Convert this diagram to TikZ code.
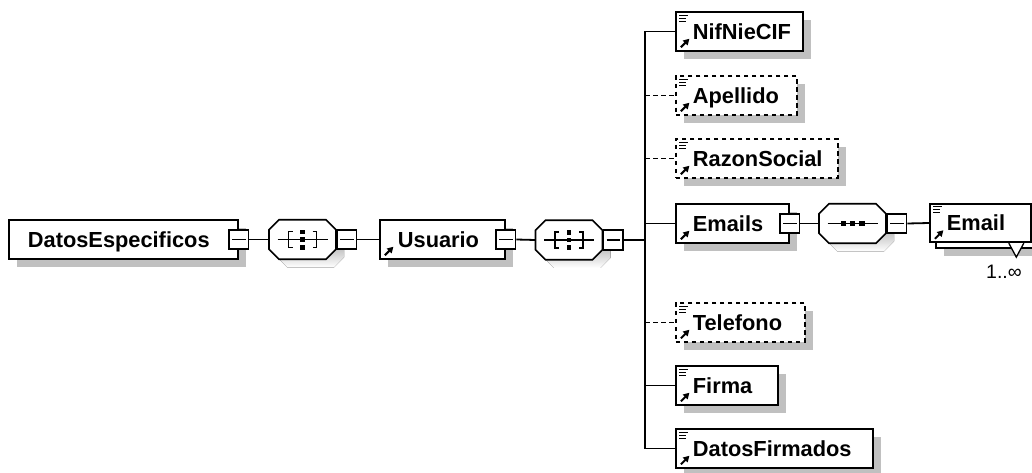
\documentclass[tikz,border=0pt]{standalone}
\usepackage{fontspec}
\setmainfont{Liberation Sans}
\usetikzlibrary{shadows,arrows.meta}
\definecolor{shade}{HTML}{C0C0C0}

\tikzset{
  conn/.style={line width=1.8pt},
  optional/.style={dash pattern=on 4.5pt off 3.5pt},
  box/.style={draw, fill=white, line width=1.8pt, rectangle, anchor=west,
    inner xsep=0pt, inner ysep=0pt, minimum height=38.5pt,
    text height=15.6pt, text depth=0pt,
    font=\fontsize{21.8}{24}\selectfont\bfseries},
  elem/.style={box, drop shadow={shadow xshift=8pt, shadow yshift=-8pt, fill=shade, opacity=1}},
  % reference arrow in the lower left corner
  icA/.style={path picture={
    \draw[solid, line width=2pt, -{Triangle[length=6pt,width=6.5pt]}]
      ([shift={(5,-3.5)}]path picture bounding box.south west) -- ++(8.5,-8.5);
  }},
  % simple-content lines plus reference arrow
  icB/.style={path picture={
    \draw[solid, line width=1.3pt]
      ([shift={(3.5,3)}]path picture bounding box.north west) -- ++(9,0)
      ([shift={(3.5,6)}]path picture bounding box.north west) -- ++(7,0)
      ([shift={(3.5,9)}]path picture bounding box.north west) -- ++(7,0);
    \draw[solid, line width=2pt, -{Triangle[length=6pt,width=6.5pt]}]
      ([shift={(5,-3.5)}]path picture bounding box.south west) -- ++(8.5,-8.5);
  }},
  minus/.style={draw, fill=white, line width=1.6pt, rectangle, solid,
    minimum size=19.5pt, inner sep=0pt,
    path picture={\draw[line width=1.6pt]
      ([xshift=3pt]path picture bounding box.west) -- ([xshift=-3pt]path picture bounding box.east);}},
  % anchor frame of a group box; its octagon is drawn by a pic
  comp/.style={rectangle, minimum width=67pt, minimum height=39.5pt, inner sep=0pt},
  octagon/.pic={
    \fill[shade, shift={(8,8)}] (-23.5,-19.75) -- (23.5,-19.75) -- (33.5,-9.75) -- (33.5,9.75)
      -- (23.5,19.75) -- (-23.5,19.75) -- (-33.5,9.75) -- (-33.5,-9.75) -- cycle;
    \draw[line width=1.6pt, fill=white] (-23.5,-19.75) -- (23.5,-19.75) -- (33.5,-9.75) -- (33.5,9.75)
      -- (23.5,19.75) -- (-23.5,19.75) -- (-33.5,9.75) -- (-33.5,-9.75) -- cycle;
  },
  allgroup/.pic={
    \pic {octagon};
    \draw[line width=1.6pt] (-25,0) -- (25,0);
    \draw[line width=1.6pt] (-10,-8) -- (-14,-8) -- (-14,8) -- (-10,8);
    \draw[line width=1.6pt] (10,-8) -- (14,-8) -- (14,8) -- (10,8);
    \fill (-2.4,-10) rectangle (2.4,-5.2);
    \fill (-2.4,-2.4) rectangle (2.4,2.4);
    \fill (-2.4,5.2) rectangle (2.4,10);
  },
  seqgroup/.pic={
    \pic {octagon};
    \draw[line width=1.6pt] (-25,0) -- (25,0);
    \fill (-12,-2.7) rectangle (-6.6,2.7);
    \fill (-2.7,-2.7) rectangle (2.7,2.7);
    \fill (6.6,-2.7) rectangle (12,2.7);
  }
}

\begin{document}
\begin{tikzpicture}[x=1pt, y=-1pt]
\useasboundingbox (0,0) rectangle (1032,473);

% root element and its "all" group
\node[elem] (de) at (8,239.5) {\makebox[229pt][l]{\hspace{19pt}DatosEspecificos}};
\node[minus] (m1) at (de.east) {};
\node[comp] (c1) at (302.5,239.5) {};
\pic at (c1.center) {allgroup};
\node[minus, anchor=west] (m2) at (c1.east) {};

\node[elem, icA] (us) at (379,239.5) {\makebox[125pt][l]{\hspace{18pt}Usuario}};
\node[minus] (m3) at (us.east) {};
\node[comp] (c2) at (569,240) {};
\pic at (c2.center) {allgroup};
\node[minus, anchor=west] (m4) at (c2.east) {};
\coordinate (bus) at (645,240);

% children of Usuario
\node[elem, icB] (nif) at (675,31.5) {\makebox[127pt][l]{\hspace{17pt}NifNieCIF}};
\node[elem, icB, optional] (ap) at (675,95.5) {\makebox[121pt][l]{\hspace{17pt}Apellido}};
\node[elem, icB, optional] (rz) at (675,158.5) {\makebox[162pt][l]{\hspace{17pt}RazonSocial}};
\node[elem, icA] (ems) at (675,223.5) {\makebox[113pt][l]{\hspace{17pt}Emails}};
\node[minus] (m5) at (ems.east) {};
\node[elem, icB, optional] (tel) at (675,322.5) {\makebox[129pt][l]{\hspace{17pt}Telefono}};
\node[elem, icB] (fi) at (675,385.5) {\makebox[102pt][l]{\hspace{17pt}Firma}};
\node[elem, icB] (df) at (675,448.5) {\makebox[197pt][l]{\hspace{17pt}DatosFirmados}};

% Emails sequence with repeated Email
\node[comp] (c3) at (852.5,223.5) {};
\pic at (c3.center) {seqgroup};
\node[minus, anchor=west] (m6) at (c3.east) {};
\node[elem] (emailb) at (935,229) {\makebox[101pt]{}};
\node[box, icB] (email) at (929,223) {\makebox[101pt][l]{\hspace{17pt}Email}};
\draw[line width=1.3pt, fill=white] ([xshift=-23pt]email.south east) -- ++(7.5,14) -- ++(7.5,-14);
\node[anchor=base, font=\fontsize{19.5}{22}\selectfont] (card) at (1004,278) {1..∞};

% connectors
\draw[conn] (m1.east) -- (c1.west);
\draw[conn] (m2.east) -- (us.west);
\draw[conn] (m3.east) -- (c2.west);
\draw[conn] (m4.east) -- (bus);
\draw[conn] (nif.west) -| (bus |- df.west) -- (df.west);
\draw[conn, optional] (bus |- ap.west) -- (ap.west);
\draw[conn, optional] (bus |- rz.west) -- (rz.west);
\draw[conn] (bus |- ems.west) -- (ems.west);
\draw[conn, optional] (bus |- tel.west) -- (tel.west);
\draw[conn] (bus |- fi.west) -- (fi.west);
\draw[conn] (m5.east) -- (c3.west);
\draw[conn] (m6.east) -- (email.west);
\end{tikzpicture}
\end{document}
